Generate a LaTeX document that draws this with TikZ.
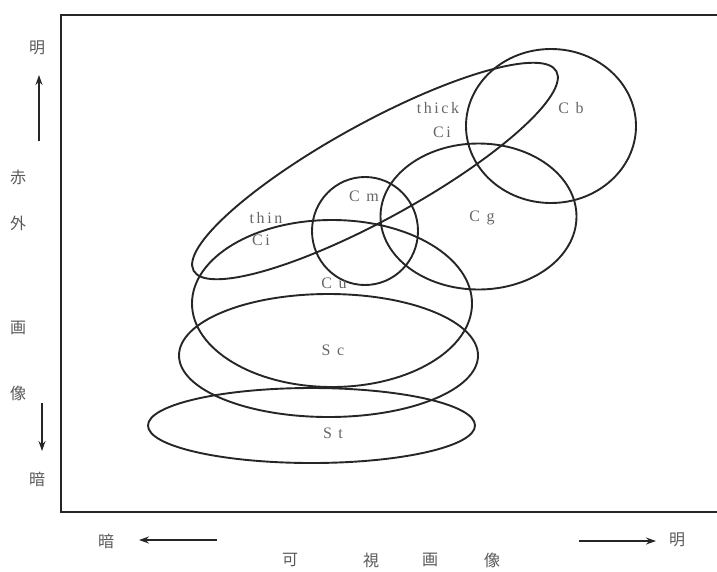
\documentclass[tikz,border=0pt]{standalone}
\usepackage{fontspec}
\setmainfont{Liberation Serif}
\newfontfamily\jpfont{Noto Sans CJK JP}
\usetikzlibrary{arrows.meta,shapes.geometric}
\begin{document}
\begin{tikzpicture}[x=1pt,y=-1pt,
  cloud/.style={draw=black!85, line width=1.9pt, ellipse, inner sep=0pt},
  lab/.style={font=\fontsize{16}{16}\selectfont\addfontfeature{LetterSpace=16}, text=black!60, inner sep=0pt},
  jpl/.style={font=\jpfont\fontsize{16}{16}\selectfont, text=black!65, inner sep=0pt},
  axarrow/.style={-{Stealth[length=10pt,width=7pt]}, line width=1.4pt, draw=black!85},
  frameline/.style={line width=1.9pt, draw=black!85}]
\useasboundingbox (0,0) rectangle (717,571);
% frame
\coordinate (ftr) at (717,15);
\coordinate (ftl) at (61,15);
\coordinate (fbl) at (61,512);
\coordinate (fbr) at (717,512);
\draw[frameline] (ftr) -- (ftl) -- (fbl) -- (fbr);
% cloud regions
\node[cloud, minimum width=327pt, minimum height=75pt] (st) at (311.5,425.5) {};
\node[cloud, minimum width=299pt, minimum height=123pt] (sc) at (328.5,355.5) {};
\node[cloud, minimum width=280pt, minimum height=167pt] (cu) at (332,303.5) {};
\node[cloud, minimum width=414pt, minimum height=96pt, rotate=28.8] (ci) at (375,171) {};
\node[cloud, minimum width=106pt, minimum height=108pt] (cm) at (365,231) {};
\node[cloud, minimum width=196pt, minimum height=146pt] (cg) at (478.5,216.5) {};
\node[cloud, minimum width=170pt, minimum height=154pt] (cb) at (551,126) {};
% labels
\node[lab] (lst) at (333,433) {S t};
\node[lab] (lsc) at (333,350) {S c};
\node[lab] (lcu) at (334,283) {C u};
\node[lab] (lcm) at (364,196) {C m};
\node[lab] (lcg) at (482,218) {C g};
\node[lab] (lcb) at (571,108) {C b};
\node[lab] (lthick) at (438,108) {thick};
\node[lab] (lthickci) at (442,132) {Ci};
\node[lab] (lthin) at (266,218) {thin};
\node[lab] (lthinci) at (261,240) {Ci};
% vertical axis
\node[jpl] (vbright) at (37,48) {明};
\node[jpl] (vr1) at (18,177) {赤};
\node[jpl] (vr2) at (18,223) {外};
\node[jpl] (vr3) at (18,328) {画};
\node[jpl] (vr4) at (18,393) {像};
\node[jpl] (vdark) at (37,479) {暗};
\coordinate (upa) at (39,141);
\coordinate (upb) at (39,75);
\coordinate (dna) at (42,403);
\coordinate (dnb) at (42,451);
\draw[axarrow] (upa) -- (upb);
\draw[axarrow] (dna) -- (dnb);
% horizontal axis
\node[jpl] (hdark) at (106,541) {暗};
\node[jpl] (hbright) at (677,540) {明};
\node[jpl] (h1) at (290,560) {可};
\node[jpl] (h2) at (371,560) {視};
\node[jpl] (h3) at (430,560) {画};
\node[jpl] (h4) at (492,560) {像};
\coordinate (lfa) at (217,540);
\coordinate (lfb) at (139,540);
\coordinate (rta) at (579,541);
\coordinate (rtb) at (656,541);
\draw[axarrow] (lfa) -- (lfb);
\draw[axarrow] (rta) -- (rtb);
\end{tikzpicture}
\end{document}
